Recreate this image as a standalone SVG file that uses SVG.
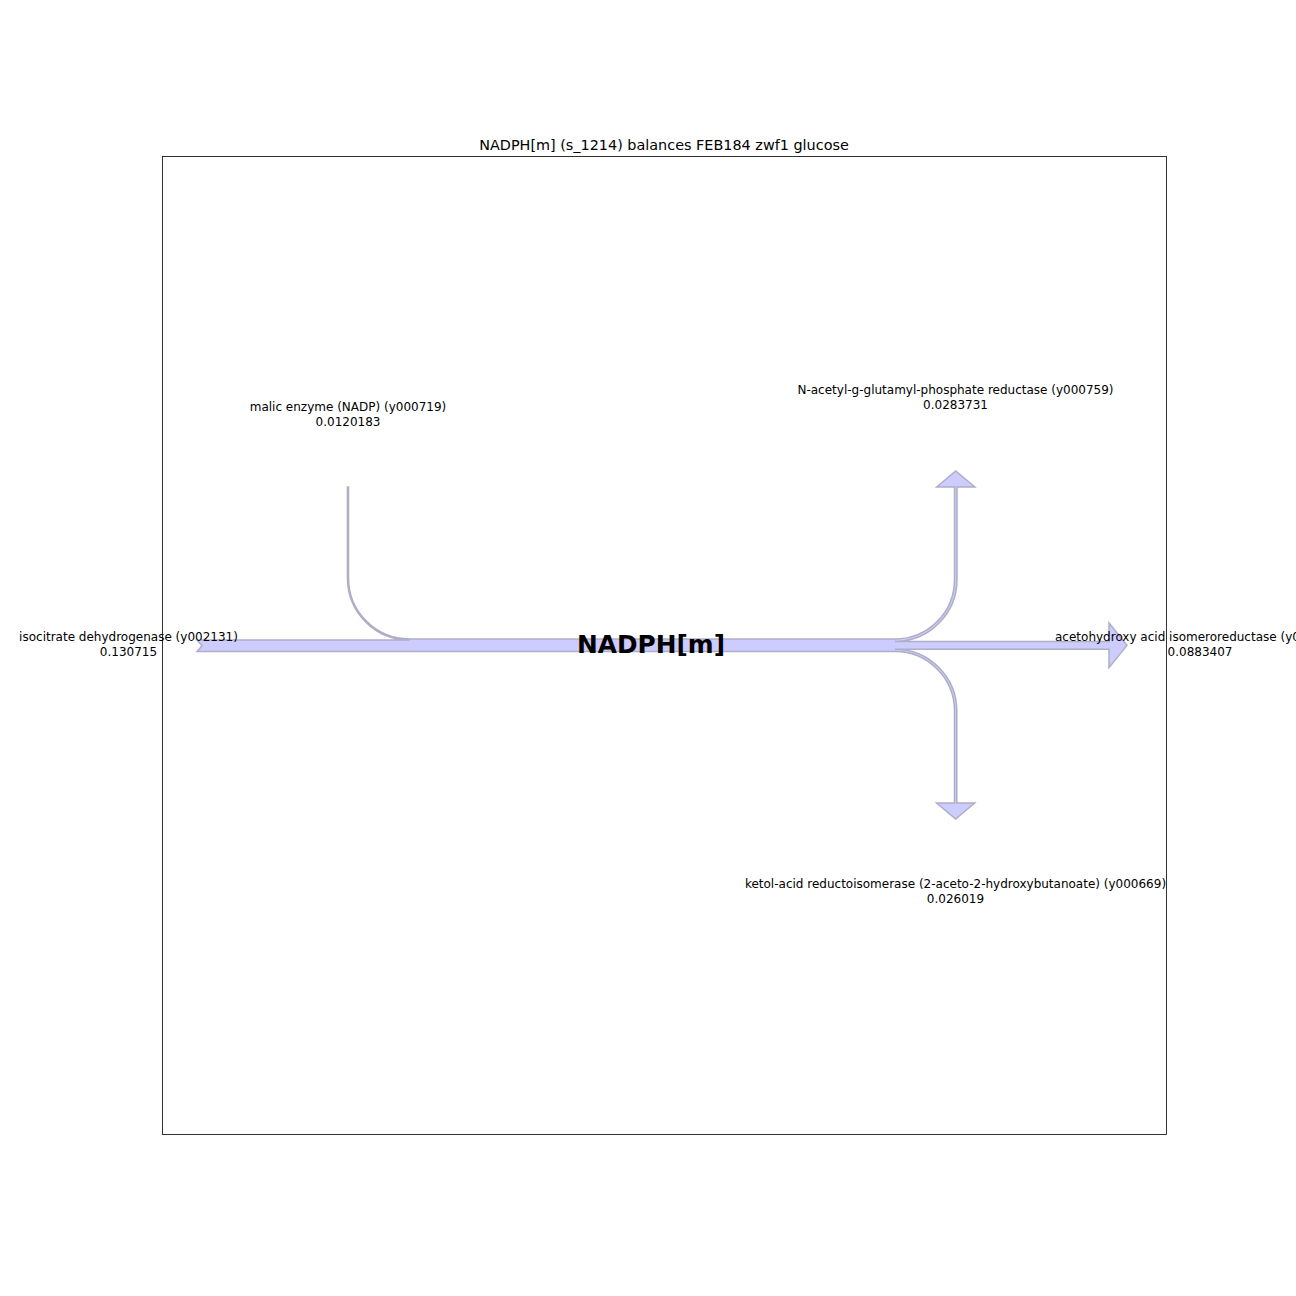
<svg xmlns="http://www.w3.org/2000/svg" width="1296" height="1296" viewBox="0 0 1296 1296">
<style>
  .lbl { font-family: "DejaVu Sans", sans-serif; font-size: 12px; fill: #000; text-anchor: middle; }
  .title { font-family: "DejaVu Sans", sans-serif; font-size: 14.4px; fill: #000; text-anchor: middle; }
  .node { font-family: "DejaVu Sans", sans-serif; font-size: 24.8px; font-weight: bold; fill: #000; text-anchor: middle; }
  .flow { fill: #ccccff; stroke: #aeaec6; stroke-width: 1.5; stroke-linejoin: miter; }
</style>
<rect x="0" y="0" width="1296" height="1296" fill="#ffffff"/>
<g id="connectors">
  <path class="flow" d="M197,651.5 L202,645.78 L197,640.05 L409.5,640.05 A62.05,62.05 0 0 1 347.45,578 L347.45,487 L348.5,487 L348.5,578 A61,61 0 0 0 409.5,639 L895,639 A59.5,59.5 0 0 0 954.5,579.5 L954.5,487 L936.7,487 L955.74,471 L974.8,487 L956.985,487 L956.985,579.5 A61.985,61.985 0 0 1 895,641.485 L1109,641.485 L1109,623 L1127,645.35 L1109,667.7 L1109,649.22 L895,649.22 A61.78,61.78 0 0 1 956.78,711 L956.78,803 L974.7,803 L955.64,819 L936.6,803 L954.5,803 L954.5,711 A59.5,59.5 0 0 0 895,651.5 Z"/>
</g>
<g id="node-nadph">
  <text class="node" x="651" y="652.8">NADPH[m]</text>
</g>
<g id="label-malic">
  <text class="lbl" x="348" y="411">malic enzyme (NADP) (y000719)</text>
  <text class="lbl" x="348" y="425.5">0.0120183</text>
</g>
<g id="label-nacetyl">
  <text class="lbl" x="955.5" y="394">N-acetyl-g-glutamyl-phosphate reductase (y000759)</text>
  <text class="lbl" x="955.5" y="408.5">0.0283731</text>
</g>
<g id="label-ketol">
  <text class="lbl" x="955.5" y="888">ketol-acid reductoisomerase (2-aceto-2-hydroxybutanoate) (y000669)</text>
  <text class="lbl" x="955.5" y="902.5">0.026019</text>
</g>
<g id="label-isocitrate">
  <text class="lbl" x="128.5" y="641">isocitrate dehydrogenase (y002131)</text>
  <text class="lbl" x="128.5" y="655.5">0.130715</text>
</g>
<g id="label-acetohydroxy">
  <text class="lbl" x="1055" y="641" style="text-anchor:start">acetohydroxy acid isomeroreductase (y0</text>
  <text class="lbl" x="1200" y="655.5">0.0883407</text>
</g>
<rect x="162.5" y="156.5" width="1004" height="978" fill="none" stroke="#000" stroke-width="0.8"/>
<text class="title" x="664" y="150">NADPH[m] (s_1214) balances FEB184 zwf1 glucose</text>
</svg>
